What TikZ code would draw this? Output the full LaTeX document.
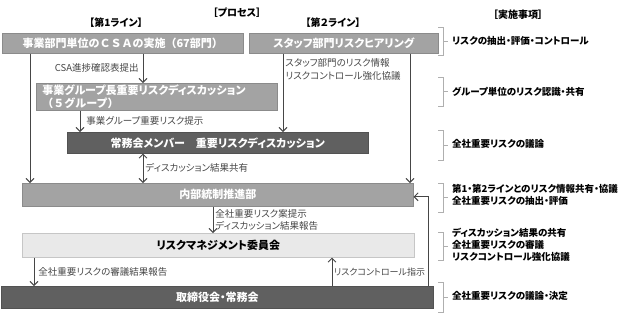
\documentclass[tikz,border=0pt]{standalone}
\usepackage{fontspec}
\setmainfont{Noto Sans CJK JP}[RawFeature={+palt}]
\usetikzlibrary{arrows.meta,shadows}
\definecolor{MidGray}{RGB}{163,163,163}
\definecolor{DarkGray}{RGB}{96,96,96}
\definecolor{LightGray}{RGB}{233,233,233}
\definecolor{ArrGray}{RGB}{70,70,70}
\definecolor{BrkGray}{RGB}{175,175,175}
\newcommand{\fullw}{\addfontfeature{RawFeature=-palt}}
\tikzset{
    midbox/.style={anchor=north west, fill=MidGray, draw=MidGray!85!black, line width=0.5pt, text=white, inner sep=0pt, align=center, font=\bfseries\fontsize{11}{13.5}\selectfont, drop shadow={shadow xshift=1pt, shadow yshift=-1pt, fill=black!40}},
    darkbox/.style={midbox, fill=DarkGray, draw=DarkGray!85!black},
    lightbox/.style={midbox, fill=LightGray, draw=LightGray!85!black, text=black},
    head/.style={font=\bfseries\fontsize{10}{12}\selectfont, inner sep=0pt},
    note/.style={font=\fontsize{9.5}{12.5}\selectfont, inner sep=2pt, align=left},
    dotext/.style={anchor=west, font=\bfseries\fontsize{9.5}{12}\selectfont, inner sep=0pt, align=left},
    arr/.style={-{Straight Barb[length=4pt, width=8pt]}, line width=0.9pt, ArrGray},
    brk/.style={line width=0.8pt, BrkGray},
}
\begin{document}
\begin{tikzpicture}[x=1pt, y=-1pt]
\useasboundingbox (0,0) rectangle (624,314);

% headings
\node[head] (proc) at (237,13) {［プロセス］};
\node[head] (line1) at (116,23) {【第1ライン】};
\node[head] (line2) at (333,23) {【第２ライン】};
\node[head] (todo) at (518,15) {［実施事項］};

% process boxes
\node[midbox, minimum width=241pt, minimum height=20pt] (csa) at (2,33) {\fullw 事業部門単位のＣＳＡの実施（67部門）};
\node[midbox, minimum width=189pt, minimum height=20pt] (staff) at (249,33) {スタッフ部門リスクヒアリング};
\node[midbox, minimum height=27pt, text width=229pt, inner xsep=6pt, align=left] (grp) at (36,83) {事業グループ長重要リスクディスカッション\\{\fullw （５グループ）}};
\node[darkbox, minimum width=301pt, minimum height=21pt] (jomu) at (67,132) {常務会メンバー　重要リスクディスカッション};
\node[midbox, minimum width=391pt, minimum height=23pt] (icp) at (22,183) {内部統制推進部};
\node[lightbox, minimum width=392pt, minimum height=24pt] (rmc) at (22,233) {リスクマネジメント委員会};
\node[darkbox, minimum width=432pt, minimum height=22pt] (board) at (1,286) {取締役会・常務会};

% flows
\draw[arr] ([xshift=28pt]csa.south west) -- ([xshift=28pt]csa.south west |- icp.north);
\draw[arr] ([xshift=141pt]csa.south west) -- ([xshift=141pt]csa.south west |- grp.north)
    node[midway, left, note, xshift=-2pt] {CSA進捗確認表提出};
\draw[arr] ([xshift=34pt]staff.south west) -- ([xshift=34pt]staff.south west |- jomu.north)
    node[pos=0, anchor=north west, note, yshift=-3pt] {スタッフ部門のリスク情報\\リスクコントロール強化協議};
\draw[arr] ([xshift=161pt]staff.south west) -- ([xshift=161pt]staff.south west |- icp.north);
\draw[arr] ([xshift=44pt]grp.south west) -- ([xshift=44pt]grp.south west |- jomu.north)
    node[midway, right, note, xshift=4pt] {事業グループ重要リスク提示};
\draw[arr, {Straight Barb[length=4pt, width=8pt]}-{Straight Barb[length=4pt, width=8pt]}] ([xshift=76pt]jomu.south west) -- ([xshift=76pt]jomu.south west |- icp.north)
    node[midway, right, note] {ディスカッション結果共有};
\draw[arr] ([xshift=191pt]icp.south west) -- ([xshift=191pt]icp.south west |- rmc.north)
    node[midway, right, note] {全社重要リスク案提示\\ディスカッション結果報告};
\draw[arr] ([xshift=12pt]rmc.south west) -- ([xshift=12pt]rmc.south west |- board.north)
    node[midway, right, note, xshift=2pt] {全社重要リスクの審議結果報告};
\draw[arr] ([xshift=331pt]board.north west) -- ([xshift=331pt]board.north west |- rmc.south)
    node[midway, right, note, inner xsep=1.5pt, font=\fontsize{9}{12}\selectfont] {リスクコントロール指示};
\draw[arr] ([xshift=427pt]board.north west) |- ([yshift=-2pt]icp.east);

% brackets
\draw[brk] (438,27) -- (443,27) -- (443,55) -- (438,55) (443,41) -- (448,41);
\node[dotext] (do1) at (452,41) {リスクの抽出・評価・コントロール};
\draw[brk] (438,77) -- (443,77) -- (443,106) -- (438,106) (443,91.5) -- (448,91.5);
\node[dotext] (do2) at (452,92) {グループ単位のリスク認識・共有};
\draw[brk] (438,130) -- (443,130) -- (443,160) -- (438,160) (443,145) -- (448,145);
\node[dotext] (do3) at (452,144) {全社重要リスクの議論};
\draw[brk] (438,183) -- (443,183) -- (443,212) -- (438,212) (443,197.5) -- (448,197.5);
\node[dotext] (do4) at (452,195) {第1・第2ラインとのリスク情報共有・協議\\全社重要リスクの抽出・評価};
\draw[brk] (438,232) -- (443,232) -- (443,260) -- (438,260) (443,246) -- (448,246);
\node[dotext] (do5) at (452,245) {ディスカッション結果の共有\\全社重要リスクの審議\\リスクコントロール強化協議};
\draw[brk] (438,282) -- (443,282) -- (443,312) -- (438,312) (443,297) -- (448,297);
\node[dotext] (do6) at (452,296) {全社重要リスクの議論・決定};
\end{tikzpicture}
\end{document}
